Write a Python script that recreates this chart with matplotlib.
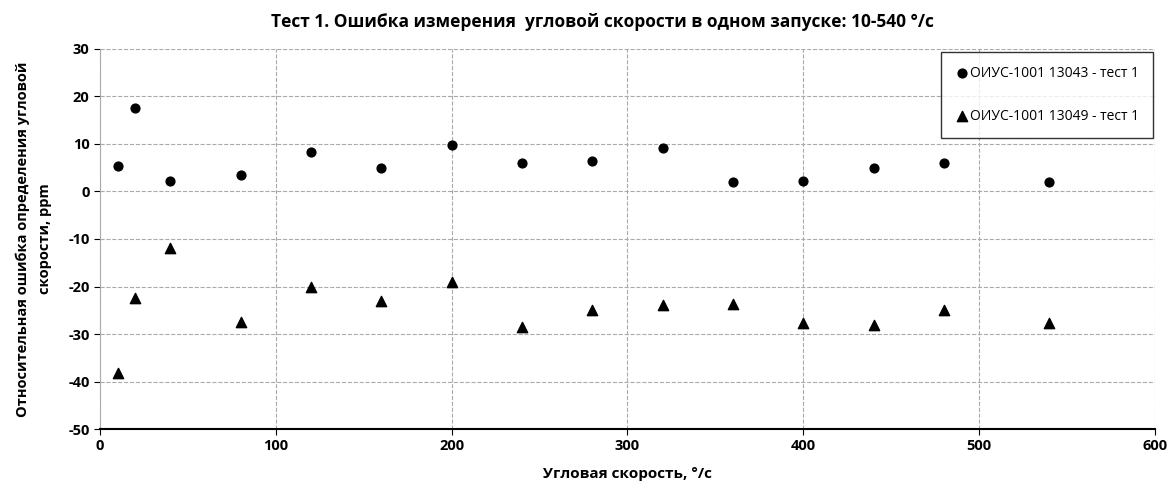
import numpy as np
import matplotlib.pyplot as plt

plt.rcParams['font.family'] = ['Open Sans', 'DejaVu Sans']
plt.rcParams['axes.unicode_minus'] = False

speed = [10, 20, 40, 80, 120, 160, 200, 240, 280, 320, 360, 400, 440, 480, 540]
err_13043 = [5.3, 17.5, 2.3, 3.4, 8.3, 4.9, 9.8, 6.0, 6.4, 9.2, 2.0, 2.2, 4.9, 6.0, 2.1]
err_13049 = [-38.2, -22.4, -11.8, -27.4, -20.1, -23.1, -19.1, -28.5, -25.0, -23.9, -23.7, -27.7, -28.1, -25.0, -27.7]

fig = plt.figure(figsize=(11.7, 4.84), dpi=100)
ax = fig.add_axes([0.0855, 0.1136, 0.9015, 0.7852])

ax.scatter(speed, err_13043, marker='o', s=40, color='black', label='ОИУС-1001 13043 - тест 1', zorder=3)
ax.scatter(speed, err_13049, marker='^', s=55, color='black', label='ОИУС-1001 13049 - тест 1', zorder=3)

ax.set_xlim(0, 600)
ax.set_ylim(-50, 30)
ax.set_xticks(range(0, 601, 100))
ax.set_yticks(range(-50, 31, 10))
ax.grid(True, linestyle='--', color='#aaaaaa', linewidth=0.8)
ax.spines['top'].set_visible(False)
ax.spines['right'].set_visible(False)
ax.spines['left'].set_color('#aaaaaa')
ax.spines['bottom'].set_linewidth(1.5)
ax.tick_params(axis='both', labelsize=10.5, length=4)
for lbl in ax.get_xticklabels() + ax.get_yticklabels():
    lbl.set_fontweight('bold')

# заголовок чуть левее центра осей, как в оригинале
fig.text(0.515, 0.955, 'Тест 1. Ошибка измерения  угловой скорости в одном запуске: 10-540 °/с',
         fontsize=12.5, fontweight='bold', ha='center', va='center')
ax.set_xlabel('Угловая скорость, °/с', fontsize=11, fontweight='bold', labelpad=10)
ax.set_ylabel('Относительная ошибка определения угловой\nскорости, ppm', fontsize=10.5,
              fontweight='bold', multialignment='center', labelpad=12, linespacing=1.7)

leg = ax.legend(loc='upper right', bbox_to_anchor=(1.005, 1.01), fontsize=10, frameon=True,
                fancybox=False, edgecolor='black', labelspacing=2.0, handletextpad=0.1,
                borderpad=1.0, handlelength=1.0)
leg.get_frame().set_linewidth(1.0)

fig.savefig('out.png', dpi=100)
